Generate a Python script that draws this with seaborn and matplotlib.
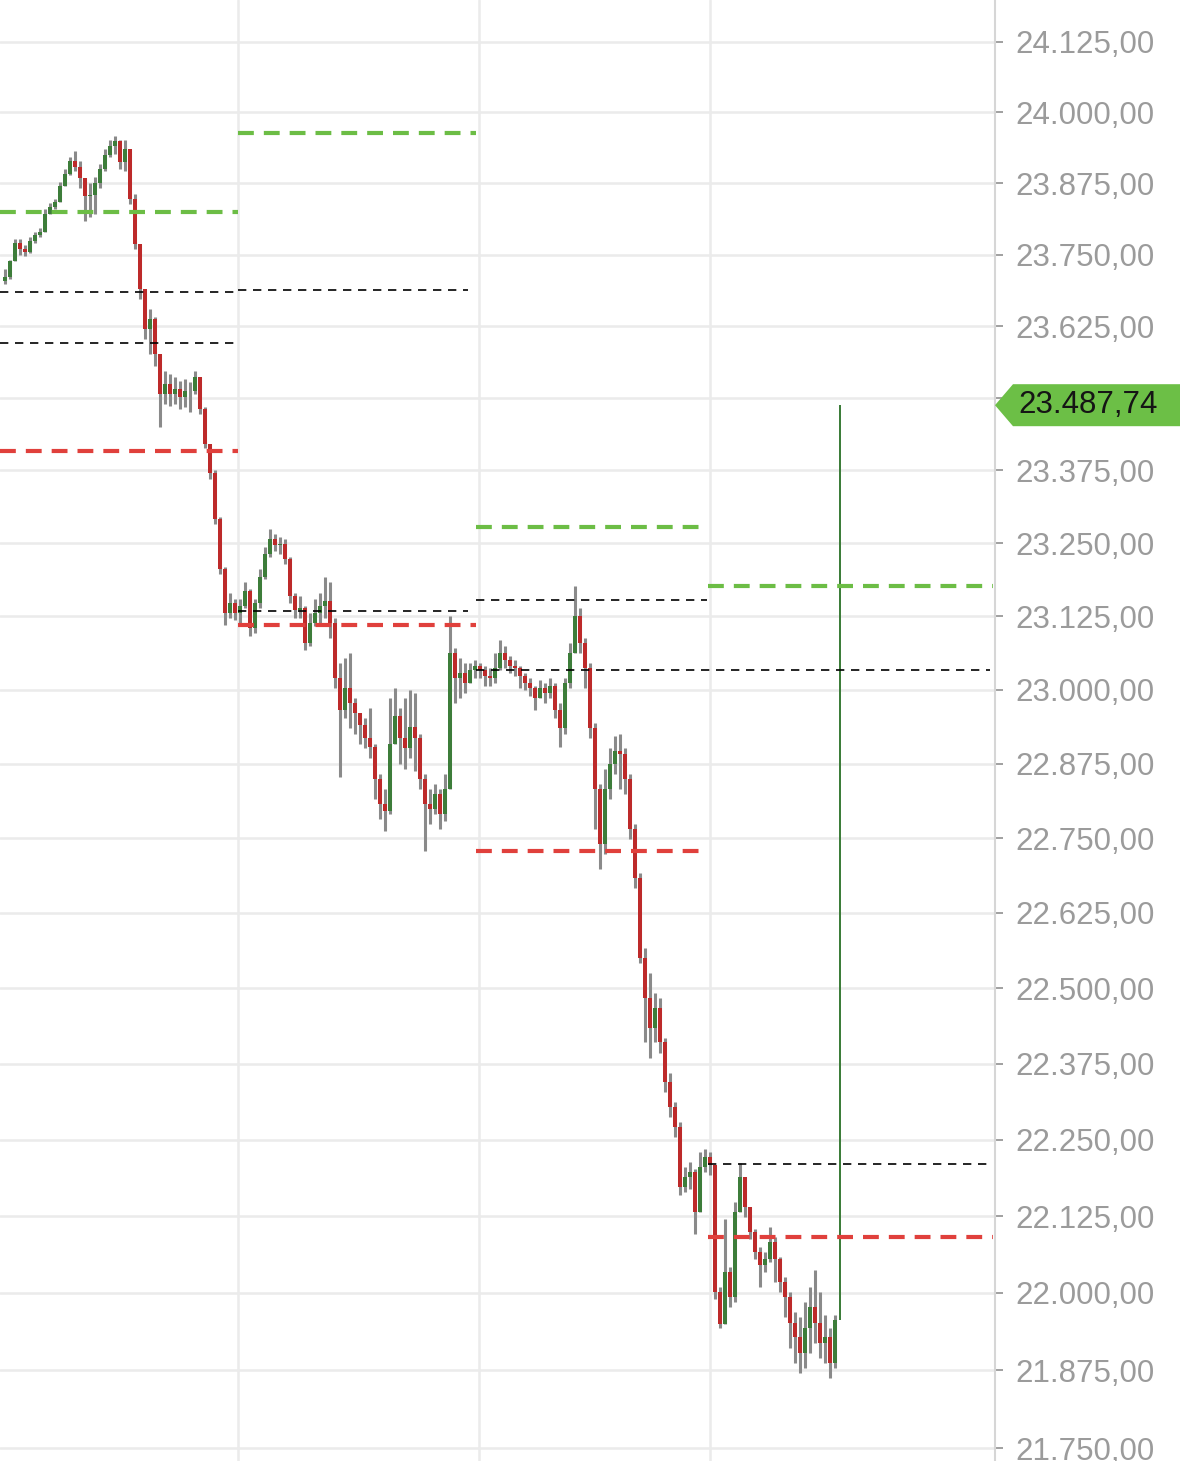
import numpy as np
import pandas as pd
import matplotlib
matplotlib.use("Agg")
import matplotlib.pyplot as plt
import seaborn as sns
from matplotlib.ticker import FixedLocator, FixedFormatter, NullLocator, NullFormatter
from matplotlib.patches import Polygon
from matplotlib.transforms import IdentityTransform

# ---------------- data ----------------
first_open = 23703
closes = [
    23710, 23738, 23771, 23759, 23755, 23773, 23784, 23789, 23821, 23834,
    23843, 23871, 23892, 23914, 23904, 23884, 23852, 23854, 23875, 23901,
    23925, 23940, 23949, 23913, 23935, 23848, 23768, 23689, 23620, 23637,
    23576, 23507, 23524, 23507, 23516, 23502, 23512, 23512, 23536, 23481,
    23421, 23370, 23292, 23206, 23130, 23147, 23130, 23142, 23169, 23105,
    23147, 23193, 23231, 23257, 23247, 23248, 23223, 23159, 23135, 23139,
    23079, 23113, 23130, 23142, 23152, 23113, 23020, 22966, 23003, 22978,
    22961, 22940, 22918, 22904, 22850, 22807, 22796, 22909, 22955, 22918,
    22901, 22938, 22918, 22850, 22807, 22799, 22824, 22791, 22833, 23063,
    23020, 23029, 23012, 23034, 23041, 23034, 23024, 23020, 23037, 23063,
    23051, 23041, 23037, 23024, 23012, 23003, 22986, 23003, 22995, 23007,
    22966, 22935, 23012, 23063, 23125, 23079, 23037, 22935, 22833, 22740,
    22833, 22875, 22897, 22892, 22850, 22765, 22683, 22550, 22484, 22434,
    22467, 22410, 22344, 22304, 22271, 22173, 22189, 22197, 22131, 22206,
    22222, 22209, 22002, 21949, 22034, 21993, 22131, 22189, 22140, 22099,
    22067, 22045, 22055, 22083, 22055, 22018, 21993, 21952, 21928, 21903,
    21944, 21977, 21952, 21919, 21928, 21887, 21957, 23487.74,
]
highs = [
    23724, 23741, 23777, 23777, 23766, 23780, 23789, 23796, 23830, 23841,
    23848, 23878, 23901, 23921, 23932, 23914, 23884, 23875, 23887, 23909,
    23935, 23952, 23959, 23952, 23952, 23935, 23857, 23768, 23668, 23655,
    23641, 23576, 23547, 23542, 23536, 23530, 23533, 23528, 23547, 23533,
    23485, 23421, 23375, 23295, 23209, 23164, 23155, 23155, 23184, 23172,
    23155, 23206, 23243, 23274, 23266, 23260, 23257, 23226, 23164, 23159,
    23142, 23130, 23155, 23164, 23193, 23184, 23122, 23046, 23054, 23063,
    22986, 22961, 22952, 22969, 22909, 22858, 22833, 22986, 23003, 22969,
    22986, 23000, 22995, 22926, 22858, 22833, 22841, 22833, 22858, 23125,
    23071, 23054, 23046, 23046, 23051, 23046, 23041, 23037, 23063, 23084,
    23074, 23057, 23051, 23041, 23029, 23020, 23007, 23017, 23012, 23020,
    23012, 22978, 23020, 23079, 23176, 23139, 23088, 23046, 22944, 22841,
    22867, 22901, 22922, 22926, 22901, 22858, 22774, 22691, 22567, 22525,
    22492, 22484, 22418, 22360, 22312, 22279, 22206, 22214, 22202, 22230,
    22235, 22230, 22026, 22010, 22120, 22042, 22148, 22211, 22189, 22140,
    22104, 22075, 22067, 22107, 22091, 22058, 22026, 22002, 21969, 21961,
    21985, 22010, 22037, 22002, 21964, 21944, 21964, 23487.74,
]
lows = [
    23698, 23707, 23738, 23750, 23748, 23752, 23771, 23780, 23789, 23823,
    23830, 23843, 23870, 23890, 23897, 23866, 23809, 23816, 23821, 23866,
    23897, 23921, 23926, 23901, 23897, 23839, 23759, 23672, 23602, 23576,
    23556, 23450, 23490, 23486, 23490, 23481, 23485, 23476, 23507, 23473,
    23413, 23361, 23283, 23198, 23110, 23122, 23118, 23113, 23139, 23091,
    23096, 23139, 23189, 23226, 23236, 23231, 23215, 23147, 23122, 23122,
    23068, 23074, 23108, 23113, 23122, 23088, 23003, 22853, 22952, 22935,
    22926, 22909, 22901, 22884, 22816, 22782, 22762, 22791, 22918, 22875,
    22867, 22884, 22863, 22833, 22729, 22774, 22791, 22765, 22779, 22833,
    22978, 22986, 22995, 23012, 23020, 23020, 23007, 23007, 23012, 23034,
    23037, 23029, 23024, 23003, 23000, 22990, 22966, 22986, 22978, 22986,
    22952, 22904, 22926, 23003, 23071, 23063, 23003, 22918, 22765, 22699,
    22724, 22816, 22858, 22833, 22824, 22748, 22667, 22542, 22410, 22385,
    22410, 22393, 22328, 22287, 22255, 22159, 22164, 22169, 22096, 22136,
    22197, 22192, 21990, 21944, 21993, 21977, 21985, 22164, 22123, 22088,
    22055, 22010, 22034, 22050, 22018, 22002, 21961, 21911, 21887, 21870,
    21878, 21903, 21919, 21895, 21887, 21862, 21878, 21952,
]
last_price = 23487.74

# session boundaries (in candle units)
session_edges = [0, 47.6, 95.2, 141.6, 198.6]
day_separators = [47.6, 95.8, 142.0]
resistance_levels = [23825, 23964, 23278, 23177]   # green dashed
support_levels = [23408, 23110, 22728, 22091]      # red dashed
pivot_values = [23684, 23595, 23688, 23134, 23153, 23034, 22210]
pivot_start = [0, 0, 47.6, 47.6, 95.2, 95.2, 141.6]
pivot_end = [47.6, 47.6, 93.6, 93.6, 141.4, 198.0, 198.0]

y_ticks = [24125, 24000, 23875, 23750, 23625, 23500, 23375, 23250, 23125,
           23000, 22875, 22750, 22625, 22500, 22375, 22250, 22125, 22000,
           21875, 21750]

# ---------------- figure ----------------
sns.set_theme(style="white")
plt.rcParams['font.family'] = ['Liberation Sans', 'DejaVu Sans']

W, H = 1180, 1461
fig = plt.figure(figsize=(W / 100, H / 100), dpi=100)
ax = fig.add_axes([0, 0, 995 / W, 1])

df = pd.DataFrame({
    "x": np.arange(1, len(closes) + 1),
    "open": [first_open] + closes[:-1],
    "close": closes,
    "high": highs,
    "low": lows,
})
df["high"] = df[["high", "open", "close"]].max(axis=1)
df["low"] = df[["low", "open", "close"]].min(axis=1)
df["up"] = df["close"] >= df["open"]

RED = "#bd2a2a"
GREEN = "#3d7d3a"
WICK = "#8a8a8a"

body_w = np.full(len(df), 0.8)
body_w[-1] = 0.45   # the final spike is drawn as a thin line

ax.set_yscale("log")
ax.vlines(df["x"][:-1], df["low"][:-1], df["high"][:-1], color=WICK, lw=2.2, zorder=3)
ax.bar(df["x"], df["close"] - df["open"], bottom=df["open"], width=body_w,
       color=np.where(df["up"], GREEN, RED), linewidth=0, zorder=4)

# level lines
starts = session_edges[:-1]
ends = session_edges[1:]
ax.hlines(resistance_levels, starts, ends, colors="#6cbd45", lw=3,
          linestyles=[(0, (3.8, 2.4))], zorder=6)
ax.hlines(support_levels, starts, ends, colors="#e0403c", lw=3,
          linestyles=[(0, (3.8, 2.4))], zorder=6)
ax.hlines(pivot_values, pivot_start, pivot_end, colors="#000000", lw=1.2,
          linestyles=[(0, (5, 4))], zorder=6)

# axes
ax.set_xlim(0, 199)
ax.set_ylim(21729.2, 24199.8)


def de_fmt(v):
    return f"{v:,.2f}".replace(",", "X").replace(".", ",").replace("X", ".")


labels = ["" if v == 23500 else de_fmt(v) for v in y_ticks]
ax.yaxis.set_major_locator(FixedLocator(y_ticks))
ax.yaxis.set_major_formatter(FixedFormatter(labels))
ax.yaxis.set_minor_locator(NullLocator())
ax.yaxis.set_minor_formatter(NullFormatter())
ax.yaxis.tick_right()
ax.tick_params(axis="y", which="major", direction="out", length=6, width=1.4,
               color="#a0a0a0", pad=9, labelsize=22.5, labelcolor="#9b9b9b")
ax.set_xticks(day_separators)
ax.set_xticklabels([])
ax.tick_params(axis="x", length=0)
ax.grid(True, color="#ebebeb", lw=1.8, zorder=0)
ax.set_axisbelow(True)
for s in ["left", "top", "bottom"]:
    ax.spines[s].set_visible(False)
ax.spines["right"].set_color("#d6d6d6")
ax.spines["right"].set_linewidth(1.5)

# price tag
cy = ax.transData.transform((0, last_price))[1]
x0 = 995
pts = [(x0, cy), (x0 + 18, cy + 21), (W + 2, cy + 21), (W + 2, cy - 21), (x0 + 18, cy - 21)]
tag = Polygon(pts, closed=True, transform=IdentityTransform(), facecolor="#6cbf46",
              edgecolor="none", zorder=10)
fig.add_artist(tag)
fig.text(1088, cy, de_fmt(last_price), transform=IdentityTransform(), ha="center",
         va="center", fontsize=22.5, color="#151515", zorder=11)

fig.savefig("out.png", dpi=100)
